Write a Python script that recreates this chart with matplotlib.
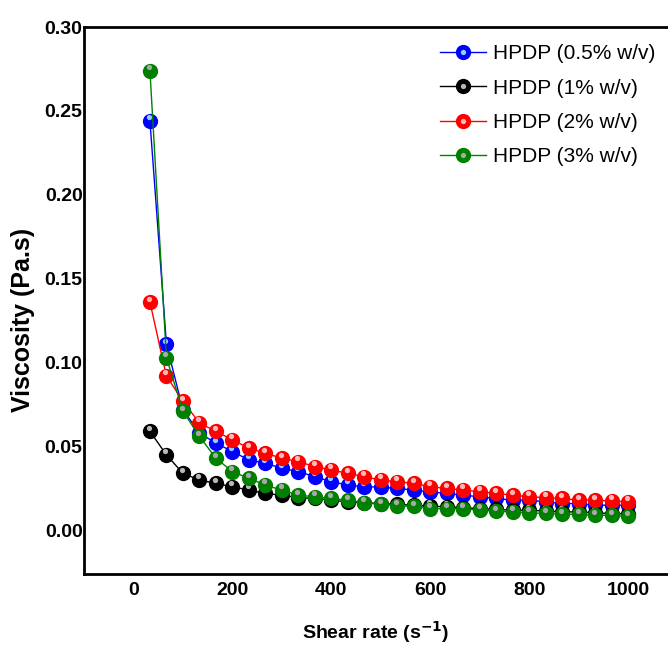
import numpy as np
import matplotlib
matplotlib.use('Agg')
import matplotlib.pyplot as plt
from matplotlib.transforms import offset_copy
from matplotlib.legend_handler import HandlerTuple

shear_rate = np.arange(1, 31) * 1000 / 30

visc_05 = [0.244, 0.111, 0.072, 0.058, 0.052, 0.047, 0.042, 0.040, 0.037, 0.035,
           0.032, 0.029, 0.027, 0.026, 0.0258, 0.025, 0.024, 0.023, 0.022, 0.021,
           0.020, 0.019, 0.018, 0.018, 0.017, 0.016, 0.016, 0.015, 0.015, 0.015]
visc_1 = [0.059, 0.045, 0.034, 0.030, 0.028, 0.026, 0.024, 0.022, 0.021, 0.0195,
          0.019, 0.018, 0.017, 0.0165, 0.016, 0.0155, 0.015, 0.0145, 0.014, 0.0135,
          0.013, 0.0125, 0.012, 0.012, 0.0115, 0.011, 0.011, 0.0105, 0.010, 0.010]
visc_2 = [0.136, 0.092, 0.077, 0.064, 0.059, 0.054, 0.049, 0.046, 0.043, 0.041,
          0.038, 0.036, 0.034, 0.032, 0.030, 0.029, 0.028, 0.026, 0.025, 0.024,
          0.023, 0.022, 0.021, 0.020, 0.0195, 0.019, 0.018, 0.018, 0.0175, 0.017]
visc_3 = [0.274, 0.103, 0.071, 0.056, 0.043, 0.035, 0.031, 0.027, 0.024, 0.021,
          0.020, 0.019, 0.018, 0.0165, 0.0155, 0.0146, 0.0143, 0.013, 0.0129, 0.0127,
          0.0122, 0.0113, 0.011, 0.0104, 0.0101, 0.0096, 0.0095, 0.009, 0.009, 0.0084]

labels = ['HPDP (0.5% w/v)', 'HPDP (1% w/v)', 'HPDP (2% w/v)', 'HPDP (3% w/v)']
series = [visc_05, visc_1, visc_2, visc_3]
colors = ['#0000ff', '#000000', '#ff0000', '#008000']
shine = ['#8fd0ff', '#b8b8b8', '#ffb8b8', '#a8a8a8']

bold_font = ['Liberation Sans', 'DejaVu Sans']

fig = plt.figure(figsize=(6.68, 6.56), dpi=100)
ax = fig.add_axes([0.1257, 0.125, 0.874, 0.8338])

hl_trans = offset_copy(ax.transData, fig=fig, x=-0.8, y=2.6, units='points')

handles = []
for vals, c, s, lab in zip(series, colors, shine, labels):
    line, = ax.plot(shear_rate, vals, '-o', color=c, lw=1.0, markersize=11,
                    markeredgewidth=0, label=lab)
    hl, = ax.plot(shear_rate, vals, 'o', color=s, markersize=3.8,
                  markeredgewidth=0, transform=hl_trans)
    handles.append((line, hl))

ax.set_xlim(-100, 1080)
ax.set_ylim(-0.026, 0.30)
ax.set_xticks([0, 200, 400, 600, 800, 1000])
ax.set_yticks([0.00, 0.05, 0.10, 0.15, 0.20, 0.25, 0.30])
ax.set_yticklabels(['0.00', '0.05', '0.10', '0.15', '0.20', '0.25', '0.30'])
ax.tick_params(axis='y', length=0, pad=1)
ax.tick_params(axis='x', length=0, pad=6)
for lab in ax.get_xticklabels() + ax.get_yticklabels():
    lab.set_fontfamily(bold_font)
    lab.set_fontweight('bold')
    lab.set_fontsize(14)

for sp in ax.spines.values():
    sp.set_linewidth(2)
ax.spines['right'].set_visible(False)

ax.set_xlabel('Shear rate (s$^{\\mathbf{-1}}$)', fontsize=14, fontweight='bold',
              family=bold_font, labelpad=14)
ax.set_ylabel('Viscosity (Pa.s)', fontsize=18, fontweight='bold',
              family=bold_font)
ax.yaxis.set_label_coords(-0.084, 0.464)

ax.legend(handles, labels, handler_map={tuple: HandlerTuple(ndivide=1)},
          loc='upper right', bbox_to_anchor=(1.01, 1.003), frameon=False,
          prop={'family': bold_font, 'size': 15},
          handlelength=2.2, handletextpad=0.3, labelspacing=0.74)

fig.savefig('out.png', dpi=100)
